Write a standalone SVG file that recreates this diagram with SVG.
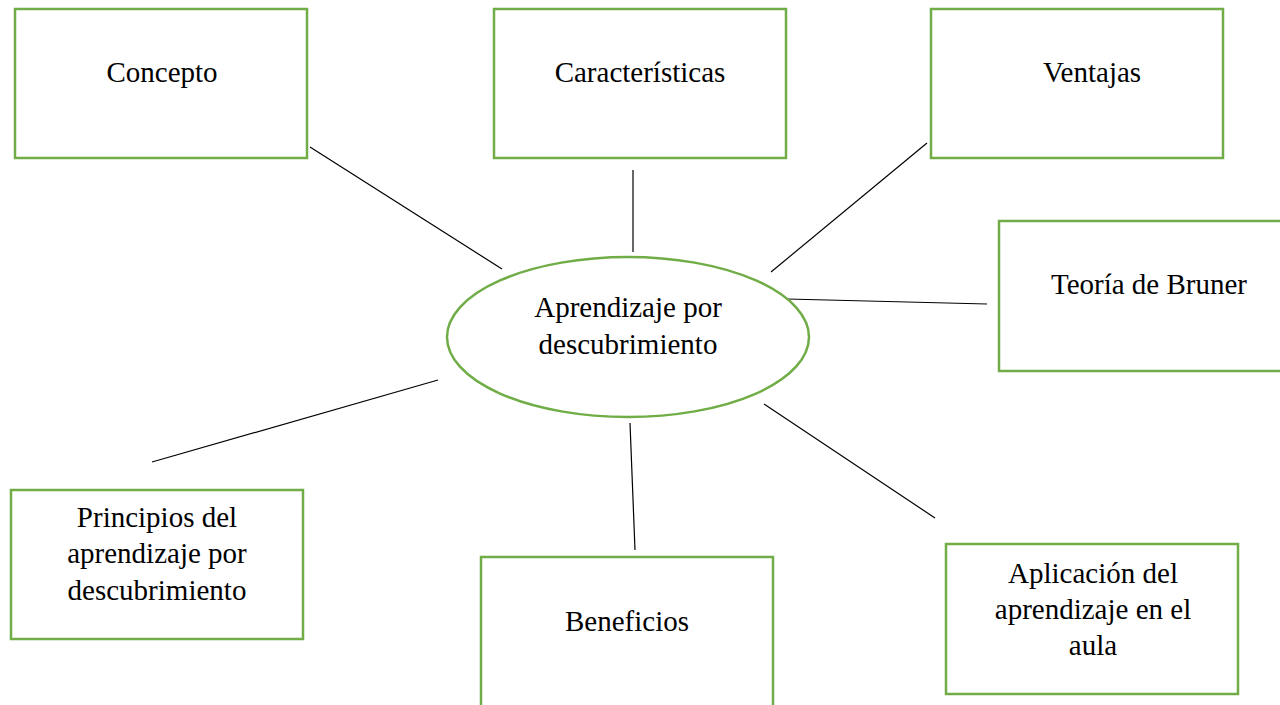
<svg xmlns="http://www.w3.org/2000/svg" width="1280" height="705" viewBox="0 0 1280 705">
<style>
.box{fill:#fff;stroke:#70AD47;stroke-width:2.5}
.lbl{font-family:"Liberation Serif","Times New Roman",serif;font-size:29px;fill:#000;text-anchor:middle}
.conn line{stroke:#000;stroke-width:1.2}
</style>
<rect width="1280" height="705" fill="#fff"/>
<g class="conn" id="connectors">
<line x1="310" y1="147" x2="502" y2="269"/>
<line x1="633" y1="170" x2="633" y2="252"/>
<line x1="927" y1="143" x2="771" y2="272"/>
<line x1="787" y1="299" x2="987" y2="304"/>
<line x1="438" y1="380" x2="152" y2="462"/>
<line x1="630" y1="423" x2="635" y2="550"/>
<line x1="764" y1="404" x2="935" y2="518"/>
</g>
<g id="center">
<ellipse class="box" cx="628" cy="337" rx="181" ry="80"/>
<text class="lbl" x="628" y="317">Aprendizaje por</text>
<text class="lbl" x="628" y="354">descubrimiento</text>
</g>
<g id="concepto">
<rect class="box" x="15" y="9" width="292" height="149"/>
<text class="lbl" x="162" y="82">Concepto</text>
</g>
<g id="caracteristicas">
<rect class="box" x="494" y="9" width="292" height="149"/>
<text class="lbl" x="640" y="82">Características</text>
</g>
<g id="ventajas">
<rect class="box" x="931" y="9" width="292" height="149"/>
<text class="lbl" x="1092" y="82">Ventajas</text>
</g>
<g id="bruner">
<rect class="box" x="999" y="221" width="300" height="150"/>
<text class="lbl" x="1149" y="294">Teoría de Bruner</text>
</g>
<g id="principios">
<rect class="box" x="11" y="490" width="292" height="149"/>
<text class="lbl" x="157" y="527">Principios del</text>
<text class="lbl" x="157" y="563">aprendizaje por</text>
<text class="lbl" x="157" y="600">descubrimiento</text>
</g>
<g id="beneficios">
<rect class="box" x="481" y="557" width="292" height="160"/>
<text class="lbl" x="627" y="631">Beneficios</text>
</g>
<g id="aplicacion">
<rect class="box" x="946" y="544" width="292" height="150"/>
<text class="lbl" x="1093" y="583">Aplicación del</text>
<text class="lbl" x="1093" y="619">aprendizaje en el</text>
<text class="lbl" x="1093" y="655">aula</text>
</g>
</svg>
